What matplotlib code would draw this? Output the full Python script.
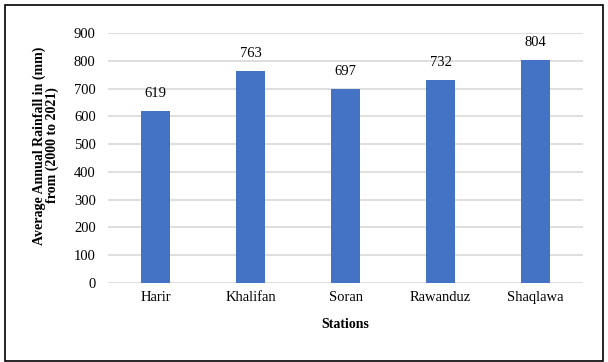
import matplotlib.pyplot as plt
from matplotlib.patches import Rectangle

stations = ['Harir', 'Khalifan', 'Soran', 'Rawanduz', 'Shaqlawa']
rainfall = [619, 763, 697, 732, 804]

plt.rcParams['font.family'] = 'Liberation Serif'

fig = plt.figure(figsize=(6.08, 3.62), dpi=100)
ax = fig.add_axes([0.178, 0.218, 0.781, 0.691])

bars = ax.bar(stations, rainfall, width=0.3, color='#4472C4', zorder=2)
for b, v in zip(bars, rainfall):
    ax.text(b.get_x() + b.get_width() / 2, v + 40, str(v),
            ha='center', va='bottom', fontsize=10.5)

ax.set_ylim(0, 900)
ax.set_xlim(-0.5, 4.5)
ax.set_yticks(range(0, 901, 100))
ax.yaxis.grid(True, color='#d9d9d9', linewidth=1.2, zorder=0)
ax.tick_params(length=0, labelsize=10.5, pad=9)
ax.tick_params(axis='x', pad=6)
for s in ax.spines.values():
    s.set_visible(False)

ax.set_xlabel('Stations', fontweight='bold', fontsize=10, labelpad=10)
ax.set_ylabel('Average Annual Rainfall in (mm)\nfrom (2000 to 2021)',
              fontweight='bold', fontsize=10, linespacing=1.0)
ax.yaxis.set_label_coords(-0.103, 0.55)

# outer frame
fig.patches.append(Rectangle((5 / 608, 1 / 362), 598 / 608, 356 / 362,
                             transform=fig.transFigure, fill=False,
                             edgecolor='black', linewidth=1.2))

fig.savefig('out.png', dpi=100)
